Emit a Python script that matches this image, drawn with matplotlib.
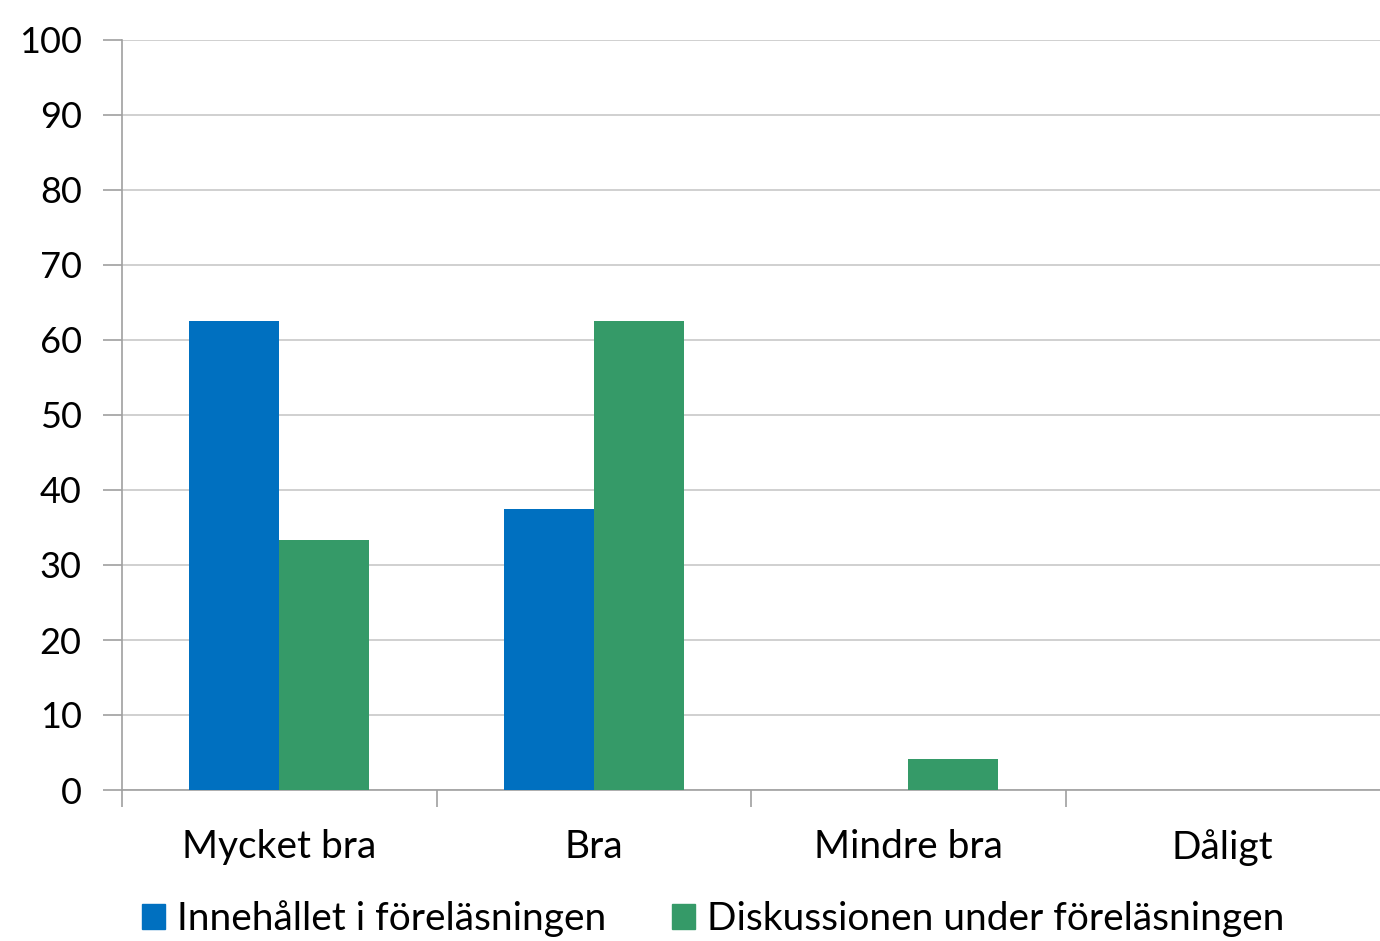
import numpy as np
import matplotlib
matplotlib.use('Agg')
import matplotlib.pyplot as plt
from matplotlib.patches import Patch

plt.rcParams['font.family'] = ['Lato', 'DejaVu Sans']

categories = ['Mycket bra', 'Bra', 'Mindre bra', 'Dåligt']
series_names = ['Innehållet i föreläsningen', 'Diskussionen under föreläsningen']
innehall = [62.5, 37.5, 0, 0]
diskussion = [33.3, 62.5, 4.2, 0]
colors = ['#0070C0', '#359A68']

fig = plt.figure(figsize=(13.8, 9.41), dpi=100)
ax = fig.add_axes([122 / 1380, 1 - 790 / 941, (1380 - 122) / 1380, 750 / 941])

x = np.arange(len(categories))
w = 0.286
ax.bar(x - w / 2, innehall, w, color=colors[0], zorder=3)
ax.bar(x + w / 2, diskussion, w, color=colors[1], zorder=3)

ax.set_xlim(-0.5, len(categories) - 0.5)
ax.set_ylim(0, 100)
ax.set_yticks(range(0, 101, 10))
ax.yaxis.grid(True, color='#C8C8C8', linewidth=1.2, zorder=0)
ax.tick_params(axis='y', length=14, width=1.2, color='#A0A0A0', labelsize=26, pad=15)
ax.set_xticks(x)
ax.set_xticklabels(categories, fontsize=28)
ax.tick_params(axis='x', length=0, pad=28)
ax.set_xticks(np.arange(len(categories)) - 0.5, minor=True)
ax.tick_params(axis='x', which='minor', length=12, width=1.2, color='#A0A0A0')

for side in ['top', 'right']:
    ax.spines[side].set_visible(False)
for side in ['left', 'bottom']:
    ax.spines[side].set_color('#A0A0A0')
    ax.spines[side].set_linewidth(1.2)

handles = [Patch(color=c) for c in colors]
fig.legend(handles, series_names, loc='center', bbox_to_anchor=(713 / 1380, 1 - 919 / 941),
           ncol=2, frameon=False, fontsize=28, handlelength=0.6, handleheight=0.6,
           handletextpad=0.3, columnspacing=1.7)

fig.savefig('out.png', dpi=100)
